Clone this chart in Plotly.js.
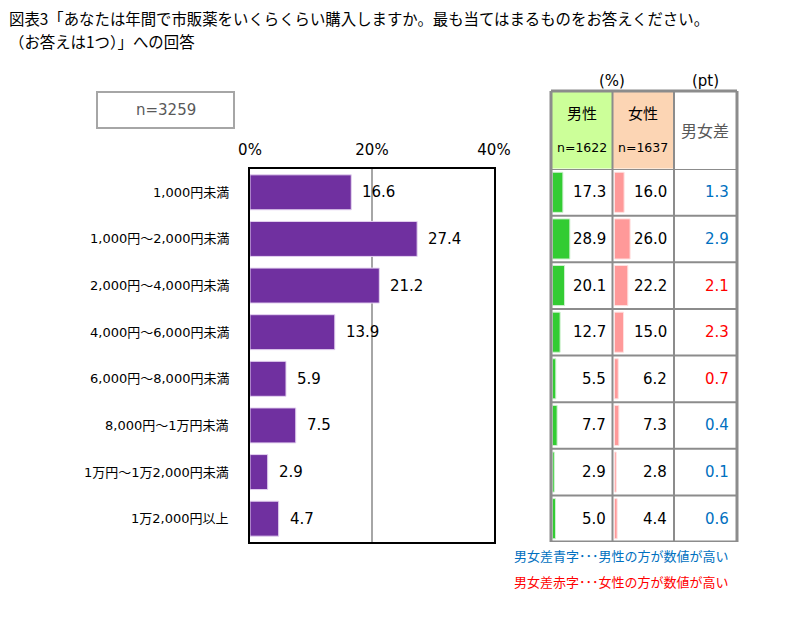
<!DOCTYPE html>
<html>
<head>
<meta charset="utf-8">
<script src="https://cdn.plot.ly/plotly-3.0.1.min.js"></script>
<style>html,body{margin:0;padding:0;background:#fff;}#chart{width:810px;height:626px;}</style>
</head>
<body>
<div id="chart"></div>
<script>
// ---- data ----
const titleLine1 = '図表3「あなたは年間で市販薬をいくらくらい購入しますか。最も当てはまるものをお答えください。';
const titleLine2 = '（お答えは1つ）」への回答';
const categories = ['1,000円未満','1,000円～2,000円未満','2,000円～4,000円未満','4,000円～6,000円未満','6,000円～8,000円未満','8,000円～1万円未満','1万円～1万2,000円未満','1万2,000円以上'];
const totals = [16.6, 27.4, 21.2, 13.9, 5.9, 7.5, 2.9, 4.7];
const male = [17.3, 28.9, 20.1, 12.7, 5.5, 7.7, 2.9, 5.0];
const female = [16.0, 26.0, 22.2, 15.0, 6.2, 7.3, 2.8, 4.4];
const diff = [1.3, 2.9, 2.1, 2.3, 0.7, 0.4, 0.1, 0.6];
const xTickVals = [0, 20, 40];
const xTickText = ['0%', '20%', '40%'];
const nTotal = 'n=3259';
const headerMale = '男性', headerFemale = '女性', headerDiff = '男女差';
const nMale = 'n=1622', nFemale = 'n=1637';
const unitPct = '(%)', unitPt = '(pt)';
const noteBlue = '男女差青字･･･男性の方が数値が高い';
const noteRed = '男女差赤字･･･女性の方が数値が高い';

// ---- layout helpers ----
const W = 810, H = 626;
const px = v => v / W;
const py = v => 1 - v / H;
const FONT = '"DejaVu Sans", "Noto Sans CJK JP", sans-serif';
const CJK = '"Noto Sans CJK JP", "DejaVu Sans", sans-serif';
const plotTop = 169, plotBot = 542;
const yDomain = [py(plotBot), py(plotTop)];
const nCat = categories.length;
const yRange = [nCat - 0.5, -0.5];
const gridCol = '#8C8C8C';

const traces = [
  {type:'bar', orientation:'h', x: totals, y: categories, xaxis:'x', yaxis:'y',
   marker:{color:'#7030A0', line:{color:'#E4D2F0', width:1}}, width:0.75, hoverinfo:'skip'},
  {type:'bar', orientation:'h', x: male, y: categories, xaxis:'x2', yaxis:'y2',
   marker:{color:'#33CC33', line:{color:'#CFF0CF', width:1}}, width:0.86, hoverinfo:'skip'},
  {type:'bar', orientation:'h', x: female, y: categories, xaxis:'x3', yaxis:'y2',
   marker:{color:'#FF9999', line:{color:'#FFE0E0', width:1}}, width:0.86, hoverinfo:'skip'}
];

const annotations = [];
const shapes = [];
function txt(o) {
  return Object.assign({showarrow:false, xanchor:'center', yanchor:'middle', xref:'paper', yref:'paper'}, o);
}

// titles
annotations.push(txt({x:px(7), y:py(18), xanchor:'left', text:titleLine1, font:{family:CJK, size:15.4, color:'#000'}}));
annotations.push(txt({x:px(7), y:py(41), xanchor:'left', text:titleLine2, font:{family:CJK, size:15.4, color:'#000'}}));

// n box
shapes.push({type:'rect', xref:'paper', yref:'paper', x0:px(97), x1:px(234), y0:py(92), y1:py(128),
  line:{color:'#A6A6A6', width:2}, fillcolor:'#fff'});
annotations.push(txt({x:px(165.5), y:py(110), text:nTotal, font:{family:FONT, size:15, color:'#595959'}}));

// category labels and value labels
categories.forEach((c, i) => {
  annotations.push(txt({yref:'y', x:px(231), y:c, xanchor:'right', text:c, font:{family:FONT, size:13, color:'#000'}}));
  annotations.push(txt({xref:'x', yref:'y', x:totals[i], y:c, xanchor:'left', xshift:9,
    text:totals[i].toFixed(1), font:{family:FONT, size:15, color:'#000'}}));
  annotations.push(txt({yref:'y2', x:px(608), y:c, xanchor:'right', text:male[i].toFixed(1), font:{family:FONT, size:15, color:'#000'}}));
  annotations.push(txt({yref:'y2', x:px(669), y:c, xanchor:'right', text:female[i].toFixed(1), font:{family:FONT, size:15, color:'#000'}}));
  annotations.push(txt({yref:'y2', x:px(731), y:c, xanchor:'right', text:diff[i].toFixed(1),
    font:{family:FONT, size:15, color: male[i] >= female[i] ? '#0070C0' : '#FF0000'}}));
});

// table header
const tL = 551, tC1 = 612.5, tC2 = 674, tR = 737, hTop = 91, hBot = 168.5;
shapes.push({type:'rect', xref:'paper', yref:'paper', x0:px(tL), x1:px(tC1), y0:py(hTop), y1:py(hBot),
  fillcolor:'#CCFF99', line:{width:0}, layer:'below'});
shapes.push({type:'rect', xref:'paper', yref:'paper', x0:px(tC1), x1:px(tC2), y0:py(hTop), y1:py(hBot),
  fillcolor:'#FCD5B4', line:{width:0}, layer:'below'});
annotations.push(txt({x:px(612), y:py(81), text:unitPct, font:{family:FONT, size:15, color:'#000'}}));
annotations.push(txt({x:px(705), y:py(81), text:unitPt, font:{family:FONT, size:15, color:'#000'}}));
annotations.push(txt({x:px(582), y:py(112), text:headerMale, font:{family:CJK, size:15, color:'#000'}}));
annotations.push(txt({x:px(643), y:py(112), text:headerFemale, font:{family:CJK, size:15, color:'#000'}}));
annotations.push(txt({x:px(582), y:py(148), text:nMale, font:{family:FONT, size:12.5, color:'#000'}}));
annotations.push(txt({x:px(643), y:py(148), text:nFemale, font:{family:FONT, size:12.5, color:'#000'}}));
annotations.push(txt({x:px(705), y:py(130), text:headerDiff, font:{family:CJK, size:16, color:'#595959'}}));

// table grid
[tL, tC1, tC2, tR].forEach(x => {
  shapes.push({type:'line', xref:'paper', yref:'paper', x0:px(x), x1:px(x), y0:py(hTop), y1:py(plotBot),
    line:{color:gridCol, width:(x===tL||x===tR)?3:2}});
});
shapes.push({type:'line', xref:'paper', yref:'paper', x0:px(tL), x1:px(tR), y0:py(hTop), y1:py(hTop),
  line:{color:gridCol, width:3}});
for (let k = 0; k <= nCat; k++) {
  shapes.push({type:'line', xref:'paper', yref:'y2', x0:px(tL), x1:px(tR), y0:k-0.5, y1:k-0.5,
    line:{color:gridCol, width:(k===nCat)?3:2}});
}

// notes
annotations.push(txt({x:px(731), y:py(555), xanchor:'right', text:noteBlue, font:{family:CJK, size:13, color:'#0070C0'}}));
annotations.push(txt({x:px(731), y:py(581), xanchor:'right', text:noteRed, font:{family:CJK, size:13, color:'#FF0000'}}));

const layout = {
  width: W, height: H,
  margin: {l:0, r:0, t:0, b:0},
  paper_bgcolor:'#fff', plot_bgcolor:'rgba(0,0,0,0)',
  showlegend:false,
  xaxis: {domain:[px(250), px(494)], range:[0, 40], side:'top', anchor:'y',
    tickvals: xTickVals, ticktext: xTickText, ticks:'outside', ticklen:6, tickcolor:'rgba(0,0,0,0)',
    tickfont:{family:FONT, size:15, color:'#000'},
    showgrid:true, gridcolor:'#A6A6A6', gridwidth:2, zeroline:false,
    showline:true, mirror:true, linecolor:'#000', linewidth:2, fixedrange:true},
  yaxis: {domain: yDomain, range: yRange, type:'category', anchor:'x',
    showticklabels:false, ticks:'', showgrid:false, zeroline:false,
    showline:true, mirror:true, linecolor:'#000', linewidth:2, fixedrange:true},
  xaxis2: {domain:[px(552.5), px(612.5)], range:[0, 100], anchor:'y2', visible:false, fixedrange:true},
  xaxis3: {domain:[px(614.5), px(674.5)], range:[0, 100], anchor:'y2', visible:false, fixedrange:true},
  yaxis2: {domain: yDomain, range: yRange, type:'category', anchor:'x2', visible:false, fixedrange:true},
  bargap: 0.2,
  shapes: shapes,
  annotations: annotations
};

Plotly.newPlot('chart', traces, layout, {staticPlot:true, displayModeBar:false});
</script>
</body>
</html>
